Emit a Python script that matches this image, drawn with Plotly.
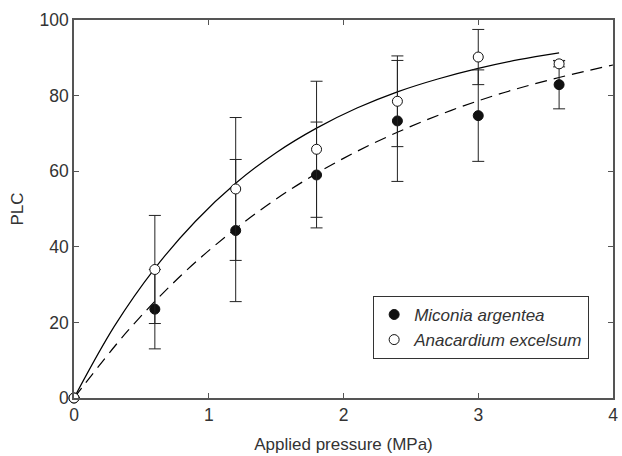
import plotly.graph_objects as go

# Data points
pressure = [0, 0.6, 1.2, 1.8, 2.4, 3.0, 3.6]
miconia = [0, 23.5, 44.3, 59.0, 73.3, 74.7, 82.9]
miconia_err = [0, 10.5, 18.8, 14.0, 16.0, 12.1, 6.4]
anacardium = [0, 34.0, 55.3, 65.8, 78.5, 90.2, 88.4]
anacardium_err = [0, 14.3, 18.9, 18.0, 12.0, 7.3, 0.8]

# Fitted curves
fit_ana_x = [0, 0.3, 0.6, 0.9, 1.2, 1.5, 1.8, 2.1, 2.4, 2.7, 3.0, 3.3, 3.6]
fit_ana_y = [0, 19.0, 34.3, 46.7, 56.8, 64.9, 71.4, 76.7, 81.0, 84.4, 87.2, 89.5, 91.3]
fit_mic_x = [0, 0.4, 0.8, 1.2, 1.6, 2.0, 2.4, 2.8, 3.2, 3.6, 4.0]
fit_mic_y = [0, 17.8, 32.6, 44.8, 55.0, 63.4, 70.3, 76.1, 80.9, 84.8, 88.1]

FONT = "Liberation Sans, Arial, sans-serif"
TXT = "#333333"
AX = "#555555"

fig = go.Figure()

fig.add_trace(go.Scatter(x=fit_ana_x, y=fit_ana_y, mode="lines", line=dict(color="black", width=1.2, shape="spline"),
                         showlegend=False, hoverinfo="skip", cliponaxis=False))
fig.add_trace(go.Scatter(x=fit_mic_x, y=fit_mic_y, mode="lines",
                         line=dict(color="black", width=1.2, dash="12px,7px", shape="spline"),
                         showlegend=False, hoverinfo="skip", cliponaxis=False))

fig.add_trace(go.Scatter(x=pressure, y=miconia, mode="markers", name="Miconia argentea",
                         error_y=dict(type="data", array=miconia_err, color="#222222", thickness=1, width=6),
                         marker=dict(symbol="circle", size=10, color="#111111", line=dict(color="#111111", width=1)),
                         cliponaxis=False))
fig.add_trace(go.Scatter(x=pressure, y=anacardium, mode="markers", name="Anacardium excelsum",
                         error_y=dict(type="data", array=anacardium_err, color="#222222", thickness=1, width=6),
                         marker=dict(symbol="circle", size=10, color="white", line=dict(color="#111111", width=1)),
                         cliponaxis=False))

axis_common = dict(showline=True, linecolor=AX, linewidth=1.5, mirror="ticks", ticks="inside",
                   ticklen=5, tickcolor=AX, showgrid=False, zeroline=False, automargin=False,
                   ticklabeloverflow="allow",
                   tickfont=dict(family=FONT, size=17.5, color=TXT))

fig.update_xaxes(range=[0, 4], dtick=1, tick0=0,
                 title=dict(text="Applied pressure (MPa)", font=dict(family=FONT, size=17, color=TXT), standoff=14),
                 **axis_common)
fig.update_yaxes(range=[0, 100], dtick=20, tick0=0,
                 title=dict(text="PLC", font=dict(family=FONT, size=17, color=TXT), standoff=12),
                 **axis_common)

fig.update_layout(
    width=622, height=456,
    margin=dict(l=74, r=9, t=20, b=58),
    paper_bgcolor="white", plot_bgcolor="white",
    font=dict(family=FONT, size=17, color=TXT),
    legend=dict(x=0.555, y=0.27, xanchor="left", yanchor="top",
                bgcolor="white", bordercolor="#333333", borderwidth=1,
                font=dict(family=FONT, size=17, color=TXT, style="italic"),
                itemwidth=30, tracegroupgap=0),
)

fig.write_html("out.html", config={"displayModeBar": False},
               post_script="document.body.style.margin='0';document.body.style.overflow='hidden';")
